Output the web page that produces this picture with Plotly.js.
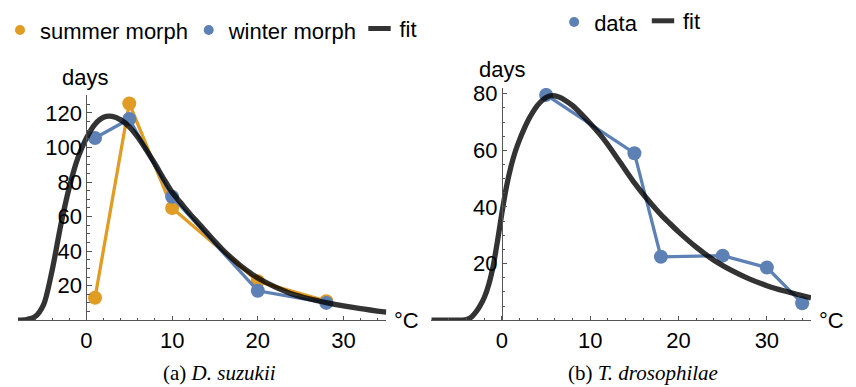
<!DOCTYPE html>
<html><head><meta charset="utf-8">
<script src="https://cdn.plot.ly/plotly-3.0.1.min.js"></script>
<style>html,body{margin:0;padding:0;background:#fff}#chart{width:856px;height:387px}</style>
</head><body><div id="chart"></div>
<script>
// ---- data ----
const summerX = [1, 5, 10, 20, 28];
const summerY = [13, 125.5, 65, 22.5, 11];
const winterX = [1, 5, 10, 20, 28];
const winterY = [105.5, 116.5, 71.5, 17, 10];
const fitAX = [-8, -7, -6, -5, -4, -3, -2, -1, 0, 1, 2, 3, 4, 5, 6, 7, 8, 9, 10, 11, 12, 13, 14, 15, 16, 17, 18, 19, 20, 22, 24, 26, 28, 30, 32, 35];
const fitAY = [0, 0.3, 2, 9, 29, 55, 77, 94, 105.5, 113.5, 117.5, 118, 116, 112, 106, 98.5, 90.5, 82, 74, 68, 62, 56.5, 51, 45.5, 40.3, 35.7, 31.5, 27.8, 24.4, 19.3, 15.2, 12.4, 10.2, 8.3, 6.7, 4.6];
const dataBX = [5, 15, 18, 25, 30, 34];
const dataBY = [79.6, 59, 22.4, 22.8, 18.6, 6];
const fitBX = [-8, -4.5, -4, -3.5, -3, -2.5, -2, -1.5, -1, -0.5, 0, 0.5, 1, 1.5, 2, 2.5, 3, 3.5, 4, 4.5, 5, 5.5, 6, 6.5, 7, 8, 9, 10, 11, 12, 13, 14, 15, 16, 17, 18, 19, 20, 22, 24, 26, 28, 30, 32, 35];
const fitBY = [0, 0, 0.2, 1, 2.7, 5, 8, 12.5, 19, 28, 38, 47, 54, 59.5, 63.8, 67.5, 70.8, 73.5, 75.8, 77.5, 78.7, 79.3, 79.3, 78.8, 78, 75.8, 72.8, 69.5, 66, 62, 57.5, 53, 48.5, 44.5, 40.8, 37.3, 34.2, 31.2, 25.8, 21.2, 17.6, 14.6, 12.2, 10.3, 7.9];
const xTickVals = [0, 10, 20, 30];
const xMinorVals = [-8, -6, -4, -2, 2, 4, 6, 8, 12, 14, 16, 18, 22, 24, 26, 28, 32, 34];
const yTickValsA = [20, 40, 60, 80, 100, 120];
const yMinorValsA = [5, 10, 15, 25, 30, 35, 45, 50, 55, 65, 70, 75, 85, 90, 95, 105, 110, 115, 125, 130];
const yTickValsB = [20, 40, 60, 80];
const yMinorValsB = [5, 10, 15, 25, 30, 35, 45, 50, 55, 65, 70, 75];
const seriesNames = ['summer morph', 'winter morph', 'fit', 'data'];
const captions = ['(a) <i>D. suzukii</i>', '(b) <i>T. drosophilae</i>'];
const axisUnit = '°C';
const axisQty = 'days';

// ---- styling ----
const W = 856, H = 387;
const ORANGE = '#E19C24', BLUE = '#5E81B5', FIT = 'rgba(0,0,0,0.8)';
const AX = '#555';
const FONT = 'Liberation Sans, Arial, Helvetica, sans-serif';
const fx = p => p / W, fy = p => 1 - p / H;

function xAxis(dom, anchor) {
  return {domain: dom, range: [-8, 35], anchor: anchor, tickmode: 'array', tickvals: xTickVals,
    ticks: 'inside', ticklen: 4.5, tickwidth: 1, tickcolor: AX, showline: true, linecolor: AX, linewidth: 1,
    showgrid: false, zeroline: false, tickfont: {size: 22, color: '#000', family: FONT},
    minor: {tickmode: 'array', tickvals: xMinorVals, ticks: 'inside', ticklen: 2.5, tickcolor: AX, showgrid: false},
    fixedrange: true};
}
function yAxis(dom, range, pos, vals, minor) {
  return {domain: dom, range: range, anchor: 'free', position: pos, tickmode: 'array', tickvals: vals,
    ticks: 'inside', ticklen: 4.5, tickwidth: 1, tickcolor: AX, showline: true, linecolor: AX, linewidth: 1,
    showgrid: false, zeroline: false, tickfont: {size: 22, color: '#000', family: FONT},
    minor: {tickmode: 'array', tickvals: minor, ticks: 'inside', ticklen: 2.5, tickcolor: AX, showgrid: false},
    fixedrange: true};
}

const traces = [
  {x: summerX, y: summerY, mode: 'lines+markers', line: {color: ORANGE, width: 3.3}, marker: {color: ORANGE, size: 14}, xaxis: 'x', yaxis: 'y', showlegend: false},
  {x: winterX, y: winterY, mode: 'lines+markers', line: {color: BLUE, width: 3.3}, marker: {color: BLUE, size: 14}, xaxis: 'x', yaxis: 'y', showlegend: false},
  {x: fitAX, y: fitAY, mode: 'lines', line: {color: FIT, width: 5.3, shape: 'spline', smoothing: 0.8}, xaxis: 'x', yaxis: 'y', showlegend: false},
  {x: dataBX, y: dataBY, mode: 'lines+markers', line: {color: BLUE, width: 3.3}, marker: {color: BLUE, size: 14}, xaxis: 'x2', yaxis: 'y2', showlegend: false},
  {x: fitBX, y: fitBY, mode: 'lines', line: {color: FIT, width: 5.3, shape: 'spline', smoothing: 0.5}, xaxis: 'x2', yaxis: 'y2', showlegend: false},
  // legend entries
  {x: [null], y: [null], mode: 'markers', marker: {color: ORANGE, size: 10}, name: seriesNames[0], legend: 'legend', xaxis: 'x', yaxis: 'y'},
  {x: [null], y: [null], mode: 'markers', marker: {color: BLUE, size: 10}, name: seriesNames[1], legend: 'legend2', xaxis: 'x', yaxis: 'y'},
  {x: [null], y: [null], mode: 'markers', marker: {symbol: 'line-ew', size: 16, line: {width: 5, color: '#333'}}, name: seriesNames[2], legend: 'legend3', xaxis: 'x', yaxis: 'y'},
  {x: [null], y: [null], mode: 'markers', marker: {color: BLUE, size: 10}, name: seriesNames[3], legend: 'legend4', xaxis: 'x2', yaxis: 'y2'},
  {x: [null], y: [null], mode: 'markers', marker: {symbol: 'line-ew', size: 16, line: {width: 5, color: '#333'}}, name: seriesNames[2], legend: 'legend5', xaxis: 'x2', yaxis: 'y2'}
];

function leg(xp, yp) {
  return {x: fx(xp), y: fy(yp), xanchor: 'left', yanchor: 'middle', orientation: 'h', bgcolor: 'rgba(0,0,0,0)',
    borderwidth: 0, font: {size: 22, color: '#000', family: FONT}};
}

const layout = {
  width: W, height: H, margin: {l: 0, r: 0, t: 0, b: 0}, paper_bgcolor: '#fff', plot_bgcolor: 'rgba(0,0,0,0)',
  font: {family: FONT, color: '#000'},
  xaxis: xAxis([fx(12), fx(383)], 'y'),
  yaxis: yAxis([fy(319.3), fy(91)], [0, 130.5], fx(81), yTickValsA, yMinorValsA),
  xaxis2: xAxis([fx(428.3), fx(810.7)], 'y2'),
  yaxis2: yAxis([fy(319.3), fy(84)], [0, 82.07], fx(499.5), yTickValsB, yMinorValsB),
  legend: leg(-6.5, 25.5),
  legend2: leg(184, 25.5),
  legend3: leg(356, 24),
  legend4: leg(552, 17.5),
  legend5: leg(641.5, 16),
  annotations: [
    {text: axisQty, xref: 'paper', yref: 'paper', x: fx(80), y: fy(73), xanchor: 'center', yanchor: 'middle', showarrow: false, font: {size: 22, family: FONT}},
    {text: axisQty, xref: 'paper', yref: 'paper', x: fx(499.5), y: fy(65), xanchor: 'center', yanchor: 'middle', showarrow: false, font: {size: 22, family: FONT}},
    {text: axisUnit, xref: 'paper', yref: 'paper', x: fx(389), y: fy(319.5), xanchor: 'left', yanchor: 'middle', showarrow: false, font: {size: 22, family: FONT}},
    {text: axisUnit, xref: 'paper', yref: 'paper', x: fx(816.5), y: fy(319.5), xanchor: 'left', yanchor: 'middle', showarrow: false, font: {size: 22, family: FONT}},
    {text: captions[0], xref: 'paper', yref: 'paper', x: fx(215), y: fy(373), xanchor: 'center', yanchor: 'middle', showarrow: false, font: {size: 21, family: 'Liberation Serif, Times New Roman, serif'}},
    {text: captions[1], xref: 'paper', yref: 'paper', x: fx(641.5), y: fy(373), xanchor: 'center', yanchor: 'middle', showarrow: false, font: {size: 21, family: 'Liberation Serif, Times New Roman, serif'}}
  ]
};

Plotly.newPlot('chart', traces, layout, {displayModeBar: false, staticPlot: true});
</script>
</body></html>
